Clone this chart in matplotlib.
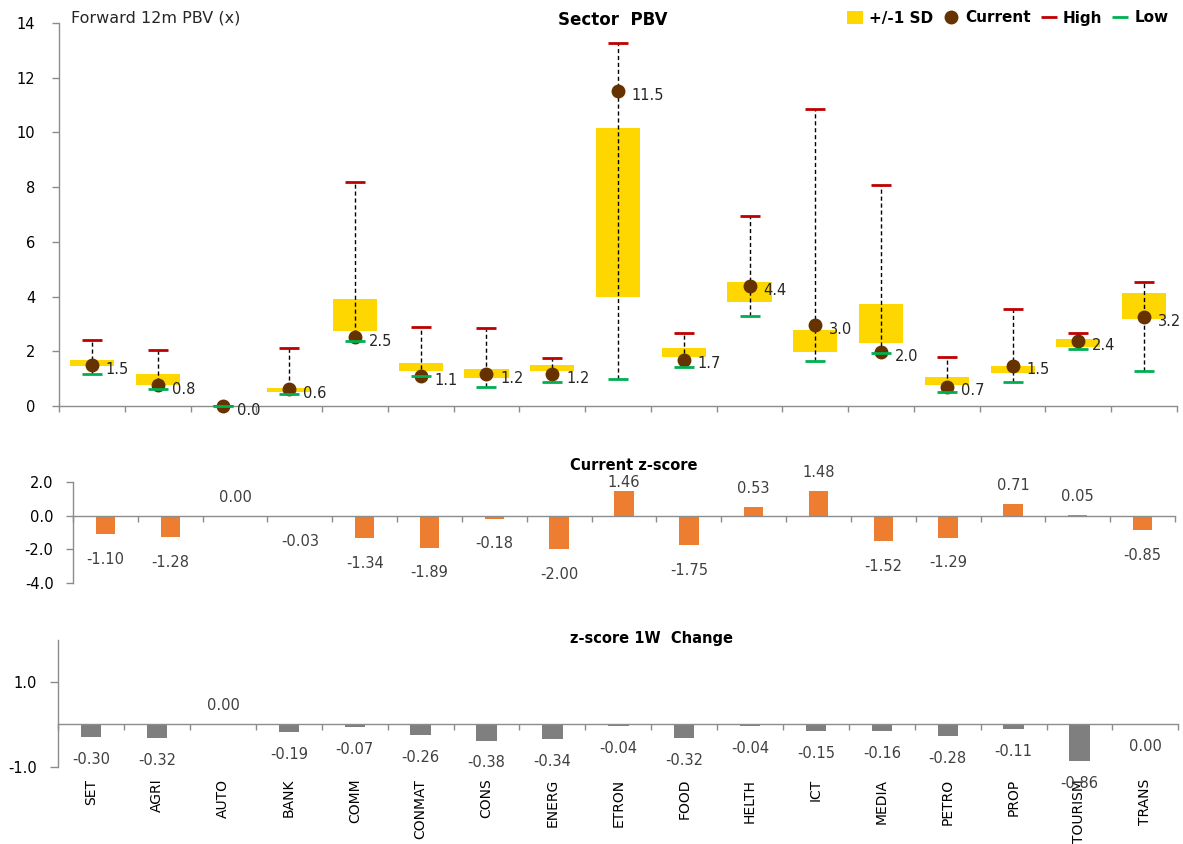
import matplotlib
matplotlib.use("Agg")
import matplotlib.pyplot as plt
from matplotlib.patches import Patch
from matplotlib.lines import Line2D
from matplotlib.ticker import FixedLocator, NullFormatter
import numpy as np

plt.rcParams['font.family'] = ['DejaVu Sans']
plt.rcParams['axes.unicode_minus'] = False

# ---------------- data ----------------
categories = ['SET', 'AGRI', 'AUTO', 'BANK', 'COMM', 'CONMAT', 'CONS', 'ENERG', 'ETRON',
              'FOOD', 'HELTH', 'ICT', 'MEDIA', 'PETRO', 'PROP', 'TOURISM', 'TRANS']
current = [1.50, 0.76, 0.00, 0.62, 2.51, 1.10, 1.16, 1.16, 11.52, 1.69, 4.37, 2.96, 1.96, 0.71, 1.47, 2.37, 3.24]
high = [2.41, 2.04, 0.00, 2.13, 8.19, 2.90, 2.84, 1.74, 13.26, 2.68, 6.93, 10.86, 8.08, 1.80, 3.55, 2.68, 4.53]
low = [1.16, 0.61, 0.00, 0.43, 2.36, 1.10, 0.71, 0.88, 0.99, 1.43, 3.29, 1.64, 1.92, 0.50, 0.88, 2.07, 1.27]
sd_upper = [1.67, 1.18, 0.00, 0.66, 3.90, 1.56, 1.34, 1.50, 10.15, 2.11, 4.52, 2.78, 3.74, 1.07, 1.46, 2.44, 4.12]
sd_lower = [1.47, 0.77, 0.00, 0.50, 2.74, 1.27, 1.04, 1.27, 4.00, 1.80, 3.81, 1.99, 2.30, 0.77, 1.19, 2.17, 3.17]
zscore = [-1.10, -1.28, 0.00, -0.03, -1.34, -1.89, -0.18, -2.00, 1.46, -1.75, 0.53, 1.48, -1.52, -1.29, 0.71, 0.05, -0.85]
zchange = [-0.30, -0.32, 0.00, -0.19, -0.07, -0.26, -0.38, -0.34, -0.04, -0.32, -0.04, -0.15, -0.16, -0.28, -0.11, -0.86, -0.004]
pbv_ticks = [0, 2, 4, 6, 8, 10, 12, 14]
z_ticks = [-4.0, -2.0, 0.0, 2.0]
chg_ticks = [-1.0, 1.0]

# ---------------- style ----------------
YELLOW = '#FFD700'
BROWN = '#663300'
RED = '#C00000'
GREEN = '#00B050'
ORANGE = '#ED7D31'
GREY_BAR = '#7F7F7F'
AXIS = '#8C8C8C'
LABEL = '#404040'

W, H = 1183, 844
fig = plt.figure(figsize=(W / 100, H / 100), dpi=100)


def rect(l, r, t, b):
    return [l / W, 1 - b / H, (r - l) / W, (b - t) / H]


ax1 = fig.add_axes(rect(59, 1177, 23, 406))
ax2 = fig.add_axes(rect(73, 1175, 482.3, 583))
ax3 = fig.add_axes(rect(58.3, 1178.3, 640, 766.7))

x = np.arange(len(categories))
bounds = np.arange(len(categories) + 1) - 0.5


def style_axes(ax, ylim, yticks, fmt, ylen, ypad):
    ax.set_xlim(-0.5, len(categories) - 0.5)
    ax.set_ylim(*ylim)
    for s in ['top', 'right']:
        ax.spines[s].set_visible(False)
    for s in ['left', 'bottom']:
        ax.spines[s].set_color(AXIS)
        ax.spines[s].set_linewidth(1.0)
    ax.spines['bottom'].set_position(('data', 0))
    ax.set_yticks(yticks)
    ax.set_yticklabels([fmt.format(v) for v in yticks])
    ax.tick_params(axis='y', length=ylen, width=1.0, color=AXIS, pad=ypad,
                   labelsize=10.5, labelcolor='black')
    ax.xaxis.set_minor_locator(FixedLocator(bounds))
    ax.xaxis.set_minor_formatter(NullFormatter())
    ax.tick_params(axis='x', which='minor', length=4, width=1.0, color=AXIS, direction='out')
    ax.patch.set_alpha(0)


# ---------------- top panel ----------------
style_axes(ax1, (0, 14), pbv_ticks, '{:.0f}', 5, 12)
ax1.set_xticks(x)
ax1.set_xticklabels([])
ax1.tick_params(axis='x', which='major', length=0)

box_h = np.array(sd_upper) - np.array(sd_lower)
ax1.bar(x, box_h, bottom=sd_lower, width=0.67, color=YELLOW, zorder=1)
ax1.vlines(x, low, high, colors='black', linestyles=(0, (3, 2)), linewidth=1.0, zorder=2)
ax1.plot(x, current, 'o', color=BROWN, markersize=9, zorder=3, clip_on=False, linestyle='none')
ax1.plot(x, high, '_', color=RED, markersize=14.5, mew=2.0, zorder=4, linestyle='none')
ax1.plot(x, low, '_', color=GREEN, markersize=14.5, mew=2.0, zorder=5, clip_on=False, linestyle='none')
for xi, v in zip(x, current):
    ax1.annotate(f'{v:.1f}', (xi, v), xytext=(10, -3), textcoords='offset points',
                 ha='left', va='center', fontsize=10.5, color='#262626', zorder=6)

fig.text(59 / W + 0.010, 1 - 18 / H, 'Forward 12m PBV (x)', ha='left', va='center',
         fontsize=11.5, color='#262626')
fig.text(613 / W, 1 - 20 / H, 'Sector  PBV', ha='center', va='center',
         fontsize=12, fontweight='bold', color='black')

handles = [Patch(facecolor=YELLOW, edgecolor='none'),
           Line2D([], [], marker='o', color=BROWN, linestyle='none', markersize=9),
           Line2D([], [], marker='_', color=RED, linestyle='none', markersize=11, mew=2.0),
           Line2D([], [], marker='_', color=GREEN, linestyle='none', markersize=11, mew=2.0)]
fig.legend(handles, ['+/-1 SD', 'Current', 'High', 'Low'], loc='center right',
           bbox_to_anchor=(1176 / W, 1 - 18 / H), ncol=4, frameon=False,
           prop={'weight': 'bold', 'size': 11}, handlelength=1.0, handleheight=0.9,
           handletextpad=0.4, columnspacing=0.7, borderpad=0.0)

# ---------------- middle panel ----------------
style_axes(ax2, (-4, 2), z_ticks, '{:.1f}', 5, 9)
ax2.set_xticks(x)
ax2.set_xticklabels([])
ax2.tick_params(axis='x', which='major', length=0)
ax2.bar(x, zscore, width=0.3, color=ORANGE, zorder=2)
title2_x = 634
title2_idx = (title2_x - 73) / (1175 - 73) * len(categories) - 0.5
for xi, v in zip(x, zscore):
    if v >= 0:
        if abs(xi - title2_idx) < 1.0:
            ax2.text(xi, 2.0, f'{v:.2f}', ha='center', va='center', fontsize=10.5, color=LABEL)
        else:
            ax2.annotate(f'{v:.2f}', (xi, v), xytext=(0, 13.5), textcoords='offset points',
                         ha='center', va='center', fontsize=10.5, color=LABEL)
    else:
        ax2.annotate(f'{v:.2f}', (xi, v), xytext=(0, -18), textcoords='offset points',
                     ha='center', va='center', fontsize=10.5, color=LABEL)
fig.text(title2_x / W, 1 - 466 / H, 'Current z-score', ha='center', va='center',
         fontsize=10.5, fontweight='bold', color='black')

# ---------------- bottom panel ----------------
style_axes(ax3, (-1, 2), chg_ticks, '{:.1f}', 5.8, 9.5)
ax3.set_xticks(x)
ax3.set_xticklabels(categories, rotation=90, fontsize=10, color='black')
ax3.tick_params(axis='x', which='major', length=0, pad=39)
ax3.bar(x, zchange, width=0.31, color=GREY_BAR, zorder=2)
for xi, v in zip(x, zchange):
    txt = f'{v:.2f}'
    if txt == '-0.00':
        txt = '0.00'
    if v >= 0:
        ax3.annotate(txt, (xi, v), xytext=(0, 13.5), textcoords='offset points',
                     ha='center', va='center', fontsize=10.5, color=LABEL)
    else:
        ax3.annotate(txt, (xi, v), xytext=(0, -16), textcoords='offset points',
                     ha='center', va='center', fontsize=10.5, color=LABEL)
fig.text(651 / W, 1 - 639 / H, 'z-score 1W  Change', ha='center', va='center',
         fontsize=10.5, fontweight='bold', color='black')

fig.savefig('out.png', dpi=100)
